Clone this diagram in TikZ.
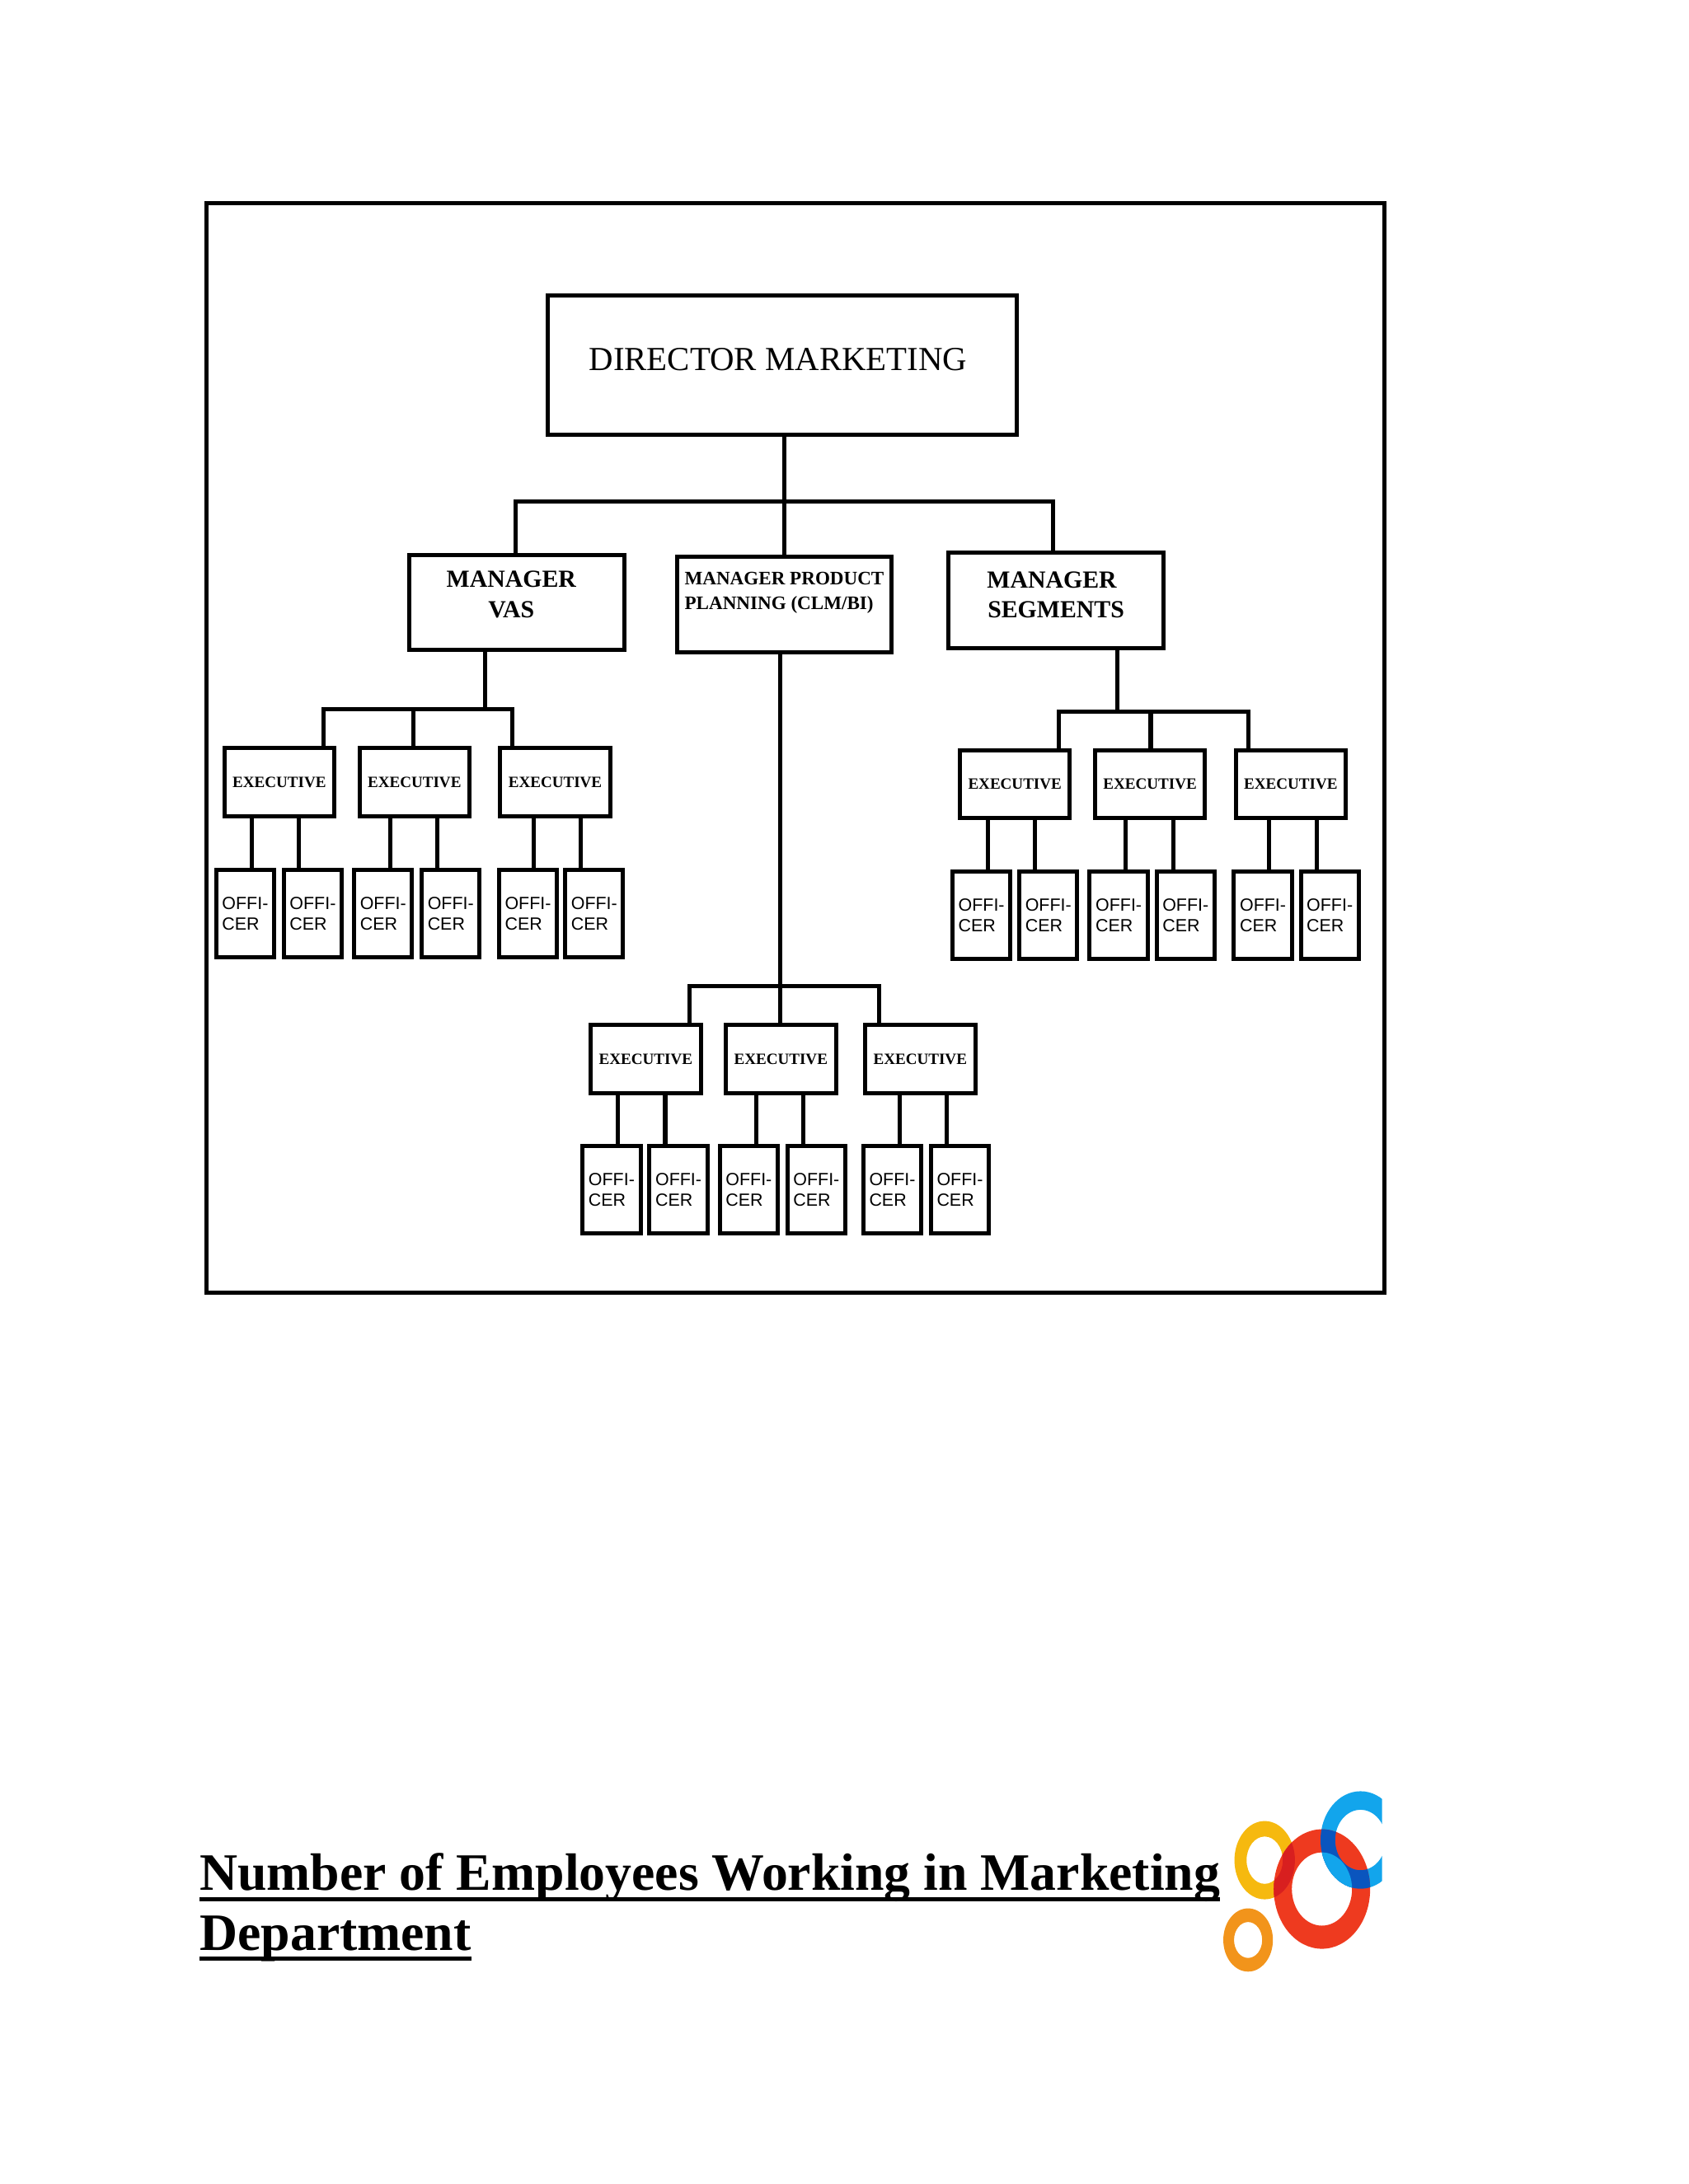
\documentclass[tikz,border=0pt]{standalone}
\usepackage{fontspec}
\setmainfont{Liberation Serif}
\setsansfont{Liberation Sans}
\definecolor{logoyellow}{HTML}{F6B90F}
\definecolor{logoorange}{HTML}{F2941B}
\definecolor{logored}{HTML}{EE3A1F}
\definecolor{logoblue}{HTML}{12A5EC}
\definecolor{logodarkred}{HTML}{D81F1F}
\definecolor{logodarkblue}{HTML}{0A55BE}
\newcommand{\titleline}[1]{\setbox0\hbox{#1}\rlap{\rule[-4pt]{\wd0}{1.5pt}}\box0}
\newcommand{\yellowring}{(907.8,1335.5) ellipse [x radius=21.7,y radius=28.1] (907.8,1335.5) ellipse [x radius=13,y radius=17]}
\newcommand{\orangering}{(895.9,1392.8) ellipse [x radius=17.8,y radius=22.7] (895.9,1392.8) ellipse [x radius=10.1,y radius=12.9]}
\newcommand{\bluering}{(976.6,1321) ellipse [x radius=28.7,y radius=35] (976.6,1321) ellipse [x radius=18.2,y radius=21.7]}
\newcommand{\redring}{(948.9,1356.2) ellipse [x radius=34.6,y radius=42.9] (948.9,1356.2) ellipse [x radius=21.6,y radius=26.3]}
\tikzset{
  box/.style={draw,line width=1.5pt,rectangle,inner sep=0pt,outer sep=0pt,align=center},
  dirbox/.style={box,minimum width=170.2pt,minimum height=50.5pt,font=\fontsize{12.2}{14}\selectfont},
  mgrbox/.style={box,minimum width=77.8pt,minimum height=34.5pt,font=\bfseries\fontsize{8.9}{11}\selectfont},
  prodbox/.style={box,align=left,minimum width=77.8pt,minimum height=34.5pt,font=\bfseries\fontsize{6.9}{9}\selectfont},
  execbox/.style={box,minimum width=39.9pt,minimum height=24.7pt,font=\bfseries\fontsize{5.7}{7}\selectfont},
  offbox/.style={box,align=left,minimum width=21pt,minimum height=31.8pt,font=\sffamily\fontsize{6.4}{7.5}\selectfont},
  link/.style={line width=1.5pt},
  titletext/.style={anchor=base west,inner sep=0pt,font=\bfseries\fontsize{19.05}{22}\selectfont},
  ring/.style={even odd rule}
}
\begin{document}
\begin{tikzpicture}[x=0.505pt,y=-0.505pt]
  \useasboundingbox (0,0) rectangle (1212,1568);
  \draw[line width=1.5pt] (148,146) rectangle (994,928);
  % top of the tree
  \node[dirbox] (director) at (561.5,262) {DIRECTOR MARKETING\hspace*{3pt}\\[-10pt]};
  \node[mgrbox] (mgrvas) at (371,432.5) {\mbox{MANAGER\kern4pt}\\\mbox{VAS\kern4pt}\\[-5pt]};
  \node[prodbox] (mgrprod) at (563,434) {MANAGER PRODUCT\\PLANNING (CLM/BI)\\[1pt]};
  \node[mgrbox] (mgrseg) at (758,431) {MANAGER\hspace*{3pt}\\SEGMENTS\\[-7pt]};
  \coordinate (busmid) at (563,360);
  \draw[link] (director.south -| busmid) -- (mgrprod.north -| busmid);
  \draw[link] (mgrvas.north -| 370,0) |- (busmid) -| (mgrseg.north -| 756,0);
  % left branch
  \node[execbox] (exa1) at (200.5,561.5) {EXECUTIVE};
  \node[execbox] (exa2) at (297.5,561.5) {EXECUTIVE};
  \node[execbox] (exa3) at (398.5,561.5) {EXECUTIVE};
  \coordinate (busa) at (348,509);
  \draw[link] (mgrvas.south -| busa) -- (busa);
  \draw[link] (exa1.north -| 232,0) |- (busa) -| (exa3.north -| 368,0);
  \draw[link] (exa2.north -| 297,0) -- (297,509);
  \node[offbox] (ofa1) at (176,656) {OFFI-\\CER};
  \node[offbox] (ofa2) at (224.5,656) {OFFI-\\CER};
  \node[offbox] (ofa3) at (275,656) {OFFI-\\CER};
  \node[offbox] (ofa4) at (323.5,656) {OFFI-\\CER};
  \node[offbox] (ofa5) at (379,656) {OFFI-\\CER};
  \node[offbox] (ofa6) at (426.5,656) {OFFI-\\CER};
  \draw[link] (exa1.south -| 181,0) -- (ofa1.north -| 181,0);
  \draw[link] (exa1.south -| 214.5,0) -- (ofa2.north -| 214.5,0);
  \draw[link] (exa2.south -| 280,0) -- (ofa3.north -| 280,0);
  \draw[link] (exa2.south -| 314,0) -- (ofa4.north -| 314,0);
  \draw[link] (exa3.south -| 383,0) -- (ofa5.north -| 383,0);
  \draw[link] (exa3.south -| 417,0) -- (ofa6.north -| 417,0);
  % middle branch
  \node[execbox] (exb1) at (463.5,760.5) {EXECUTIVE};
  \node[execbox] (exb2) at (560.5,760.5) {EXECUTIVE};
  \node[execbox] (exb3) at (660.5,760.5) {EXECUTIVE};
  \coordinate (busb) at (560,708);
  \draw[link] (mgrprod.south -| busb) -- (exb2.north -| busb);
  \draw[link] (exb1.north -| 495,0) |- (busb) -| (exb3.north -| 631,0);
  \node[offbox] (ofb1) at (439,854) {OFFI-\\CER};
  \node[offbox] (ofb2) at (487,854) {OFFI-\\CER};
  \node[offbox] (ofb3) at (537.5,854) {OFFI-\\CER};
  \node[offbox] (ofb4) at (586,854) {OFFI-\\CER};
  \node[offbox] (ofb5) at (640.5,854) {OFFI-\\CER};
  \node[offbox] (ofb6) at (689,854) {OFFI-\\CER};
  \draw[link] (exb1.south -| 443.5,0) -- (ofb1.north -| 443.5,0);
  \draw[link] (exb1.south -| 477.5,0) -- (ofb2.north -| 477.5,0);
  \draw[link] (exb2.south -| 543,0) -- (ofb3.north -| 543,0);
  \draw[link] (exb2.south -| 576.5,0) -- (ofb4.north -| 576.5,0);
  \draw[link] (exb3.south -| 646,0) -- (ofb5.north -| 646,0);
  \draw[link] (exb3.south -| 679.5,0) -- (ofb6.north -| 679.5,0);
  % right branch
  \node[execbox] (exc1) at (728.5,563) {EXECUTIVE};
  \node[execbox] (exc2) at (825.5,563) {EXECUTIVE};
  \node[execbox] (exc3) at (926.5,563) {EXECUTIVE};
  \coordinate (busc) at (802,511);
  \draw[link] (mgrseg.south -| busc) -- (busc);
  \draw[link] (exc1.north -| 760,0) |- (busc) -| (exc3.north -| 896,0);
  \draw[link] (exc2.north -| 826,0) -- (826,511);
  \node[offbox] (ofc1) at (704.5,657) {OFFI-\\CER};
  \node[offbox] (ofc2) at (752.5,657) {OFFI-\\CER};
  \node[offbox] (ofc3) at (803,657) {OFFI-\\CER};
  \node[offbox] (ofc4) at (851,657) {OFFI-\\CER};
  \node[offbox] (ofc5) at (906.5,657) {OFFI-\\CER};
  \node[offbox] (ofc6) at (954.5,657) {OFFI-\\CER};
  \draw[link] (exc1.south -| 709,0) -- (ofc1.north -| 709,0);
  \draw[link] (exc1.south -| 743,0) -- (ofc2.north -| 743,0);
  \draw[link] (exc2.south -| 808,0) -- (ofc3.north -| 808,0);
  \draw[link] (exc2.south -| 842,0) -- (ofc4.north -| 842,0);
  \draw[link] (exc3.south -| 911,0) -- (ofc5.north -| 911,0);
  \draw[link] (exc3.south -| 945,0) -- (ofc6.north -| 945,0);
  % heading
  \node[titletext] (title1) at (143,1357) {\titleline{Number of Employees Working in Marketing}};
  \node[titletext] (title2) at (143,1400) {\titleline{Department}};
  % logo
  \begin{scope}
    \clip (860,1270) rectangle (992,1430);
    \fill[logoyellow,ring] \yellowring;
    \fill[logoorange,ring] \orangering;
    \fill[logoblue,ring] \bluering;
    \fill[logored,ring] \redring;
    % overlaps of the rings
    \begin{scope}
      \clip (948.9,1356.2) ellipse [x radius=34.6,y radius=42.9];
      \fill[logodarkblue,ring] \bluering;
      \fill[logodarkred,ring] \yellowring;
      \clip (948.9,1356.2) ellipse [x radius=21.6,y radius=26.3];
      \fill[logoblue,ring] \bluering;
      \fill[logoyellow,ring] \yellowring;
    \end{scope}
  \end{scope}
\end{tikzpicture}
\end{document}
